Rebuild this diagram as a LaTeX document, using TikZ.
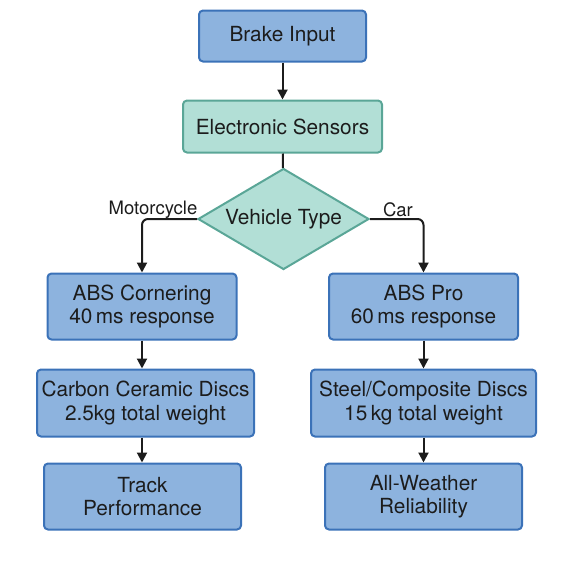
\documentclass[tikz,border=0pt]{standalone}
\usepackage{fontspec}
\setmainfont{TeX Gyre Heros}
\usetikzlibrary{shapes.geometric,arrows.meta}
\definecolor{boxfill}{HTML}{8DB3DE}
\definecolor{boxline}{HTML}{3B72B8}
\definecolor{tealfill}{HTML}{B2DFD6}
\definecolor{tealline}{HTML}{5AA697}
\definecolor{ink}{HTML}{1C1C1C}
\begin{document}
\begin{tikzpicture}[x=1pt,y=-1pt,
  bluebox/.style={draw=boxline, fill=boxfill, line width=2pt, rounded corners=4pt,
    align=center, inner sep=0pt, text=ink, font=\fontsize{20.8}{23.5}\selectfont},
  tealbox/.style={bluebox, draw=tealline, fill=tealfill},
  decision/.style={diamond, aspect=1.7, draw=tealline, fill=tealfill, line width=2pt, inner sep=0pt,
    text=ink, font=\fontsize{20.8}{23.5}\selectfont},
  branch/.style={text=ink, font=\fontsize{18.5}{21}\selectfont},
  arr/.style={draw=ink, line width=2pt, -{Triangle[length=10pt,width=10pt]}}]
\useasboundingbox (0,0) rectangle (566,566);
% top of the chain
\node[bluebox, minimum width=167, minimum height=51] (brake) at (282.5,36) {Brake Input};
\node[tealbox, minimum width=199, minimum height=52] (sensors) at (282.5,126.5) {Electronic Sensors};
\node[decision, minimum width=171, minimum height=101] (vtype) at (283.5,219) {Vehicle Type};
% motorcycle side
\node[bluebox, minimum width=189, minimum height=66] (cornering) at (142,306.5) {ABS Cornering\\40\,ms response};
\node[bluebox, minimum width=217, minimum height=67] (ceramic) at (145.5,403) {Carbon Ceramic Discs\\2.5kg total weight};
\node[bluebox, minimum width=197, minimum height=66] (track) at (142.5,496.5) {Track\\Performance};
% car side
\node[bluebox, minimum width=189, minimum height=66] (abspro) at (423.5,306.5) {ABS Pro\\60\,ms response};
\node[bluebox, minimum width=225, minimum height=67] (steel) at (423.5,403) {Steel/Composite Discs\\15\,kg total weight};
\node[bluebox, minimum width=197, minimum height=66] (weather) at (423.5,496.5) {All-Weather\\Reliability};
% connectors
\draw[arr] (brake) -- (sensors);
\draw[draw=ink, line width=2pt] (sensors) -- (vtype);
\draw[arr, rounded corners=6pt] (vtype.west) -| (cornering.north);
\draw[arr, rounded corners=6pt] (vtype.east) -| (abspro.north);
\node[branch] (moto) at (153,210) {Motorcycle};
\node[branch] (car) at (398,210) {Car};
\draw[arr] (cornering.south) -- (cornering.south |- ceramic.north);
\draw[arr] (cornering.south |- ceramic.south) -- (cornering.south |- track.north);
\draw[arr] (abspro) -- (steel);
\draw[arr] (steel) -- (weather);
\end{tikzpicture}
\end{document}
